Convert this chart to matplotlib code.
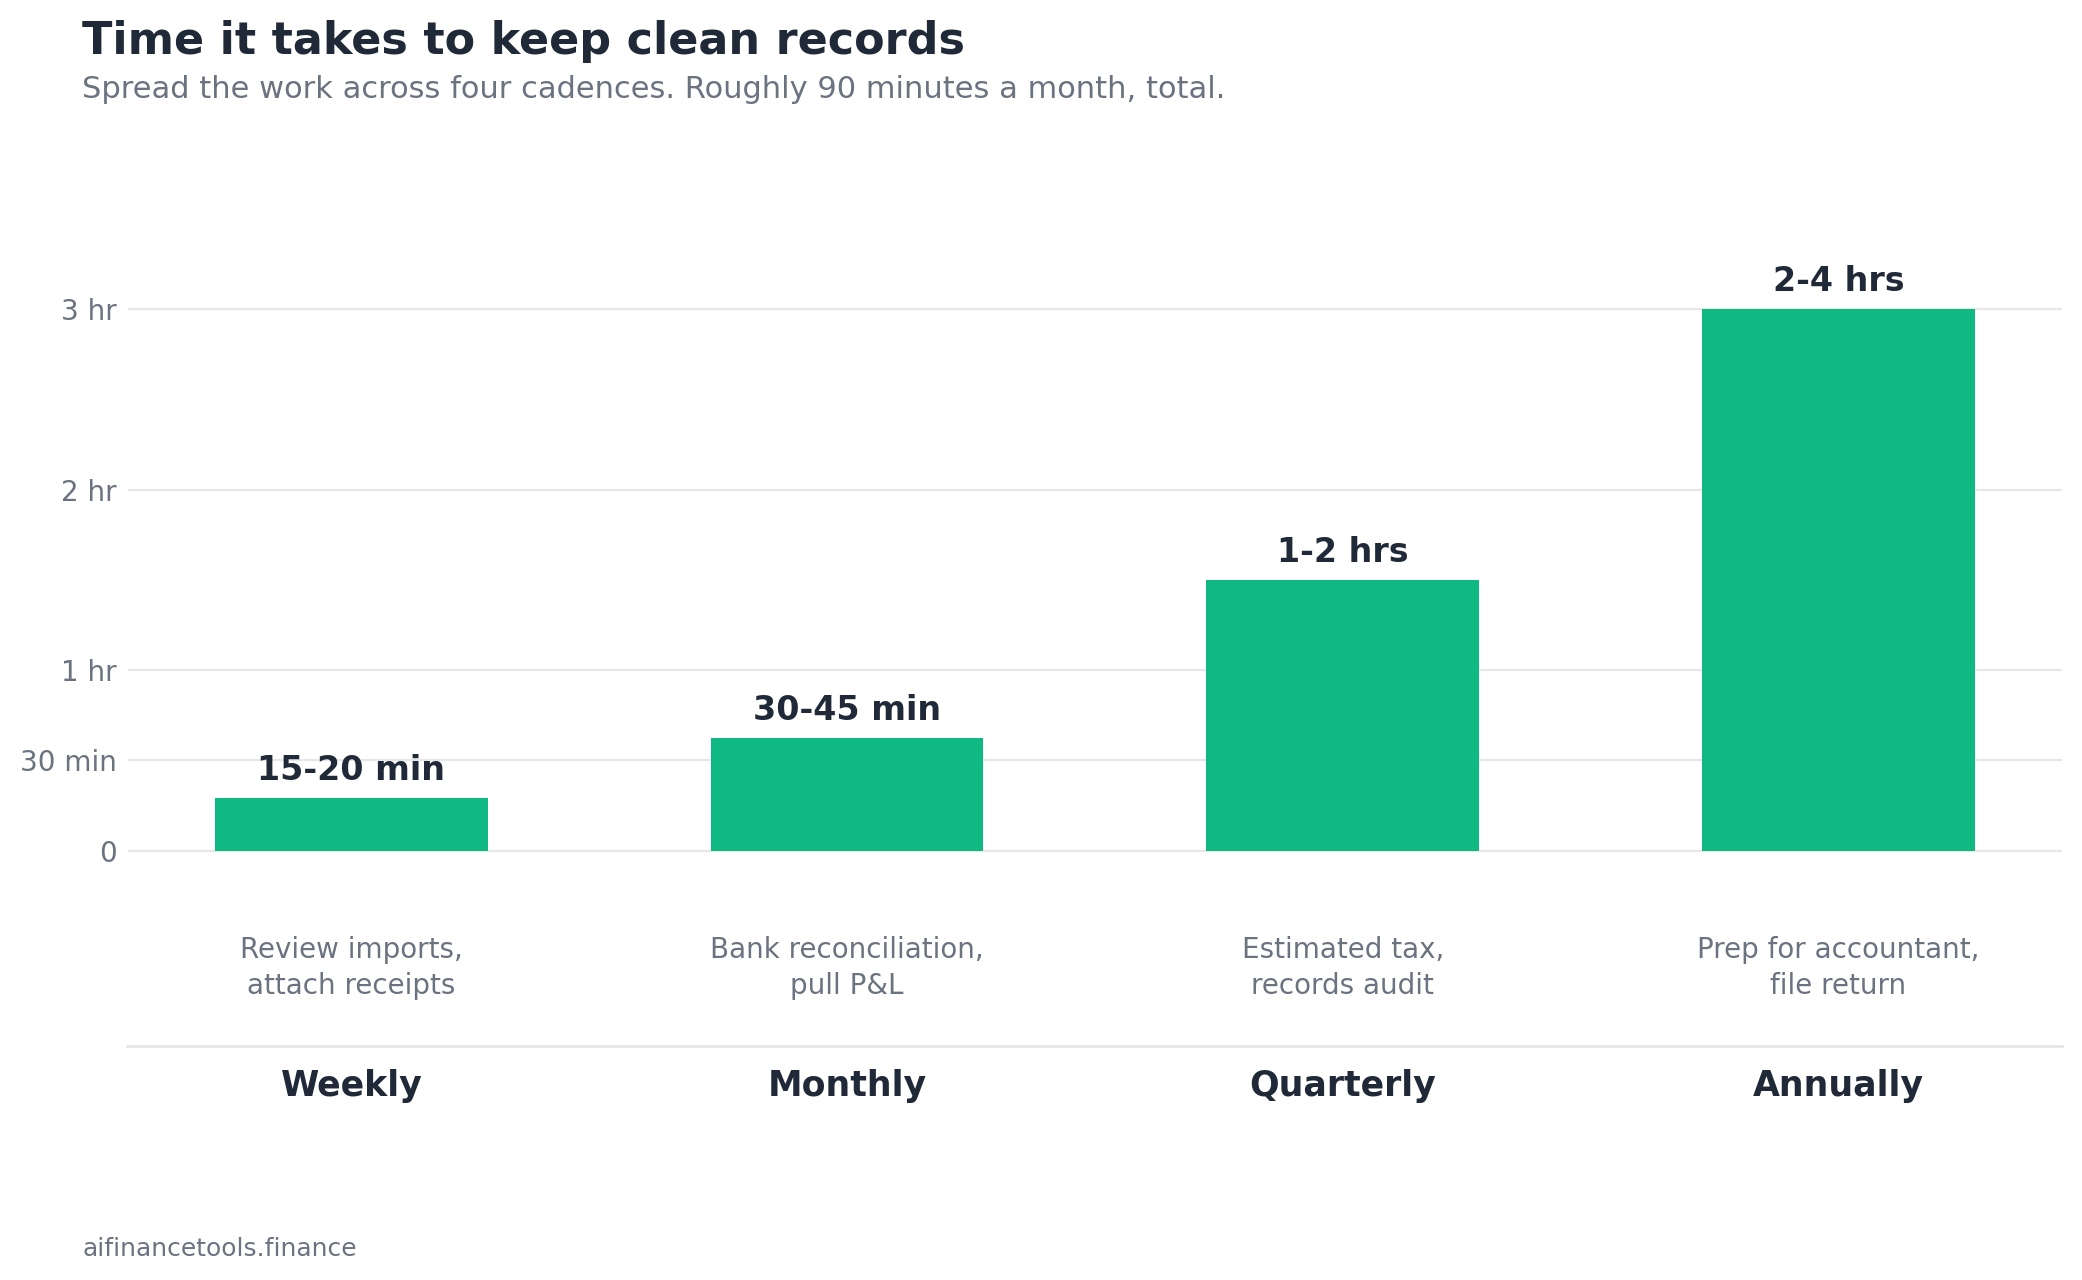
import matplotlib
matplotlib.use("Agg")
import matplotlib.pyplot as plt

# cadences and time ranges (bar height = midpoint of range, in minutes)
cadences = ["Weekly", "Monthly", "Quarterly", "Annually"]
minutes = [17.5, 37.5, 90, 180]
range_labels = ["15-20 min", "30-45 min", "1-2 hrs", "2-4 hrs"]
tasks = ["Review imports,\nattach receipts", "Bank reconciliation,\npull P&L",
         "Estimated tax,\nrecords audit", "Prep for accountant,\nfile return"]
ytick_vals = [0, 30, 60, 120, 180]
ytick_labels = ["0", "30 min", "1 hr", "2 hr", "3 hr"]

DARK = "#1f2937"
GREY = "#6b7280"
GRID = "#e5e7eb"
GREEN = "#10b981"

plt.rcParams['font.family'] = ['DejaVu Sans']

fig = plt.figure(figsize=(10.41, 6.4), dpi=200)
ax = fig.add_axes([0.0609, 0.1826, 0.9295, 0.6698])

x = list(range(len(cadences)))
ax.bar(x, minutes, width=0.55, color=GREEN, zorder=3)

ax.set_xlim(-0.453, 3.451)
ax.set_ylim(-65, 220)

# horizontal grid only at tick values
for v in ytick_vals:
    ax.axhline(v, xmin=0.0012, color=GRID, linewidth=0.8, zorder=1)
ax.set_yticks(ytick_vals)
ax.set_yticklabels(ytick_labels)
ax.tick_params(axis="y", length=0, pad=3.6, labelsize=10, labelcolor=GREY)
ax.set_xticks([])

for s in ["left", "right", "top"]:
    ax.spines[s].set_visible(False)
ax.spines["bottom"].set_color(GRID)
ax.spines["bottom"].set_linewidth(1.0)

for i in x:
    ax.annotate(range_labels[i], (i, minutes[i]), xytext=(0, 4),
                textcoords="offset points", ha="center", va="bottom",
                fontsize=12, fontweight="bold", color=DARK)
    ax.text(i, -38.9, tasks[i], ha="center", va="center", fontsize=10,
            color=GREY, linespacing=1.35)
    ax.text(i, -78.3, cadences[i], ha="center", va="center", fontsize=12.5,
            fontweight="bold", color=DARK, clip_on=False)

fig.text(0.0395, 0.9575, "Time it takes to keep clean records", fontsize=16,
         fontweight="bold", color=DARK, va="baseline")
fig.text(0.0395, 0.9232,
         "Spread the work across four cadences. Roughly 90 minutes a month, total.",
         fontsize=11, color=GREY, va="baseline")
fig.text(0.0395, 0.0187, "aifinancetools.finance", fontsize=9, color=GREY,
         va="baseline")

fig.savefig("out.png", dpi=200, facecolor="white")
